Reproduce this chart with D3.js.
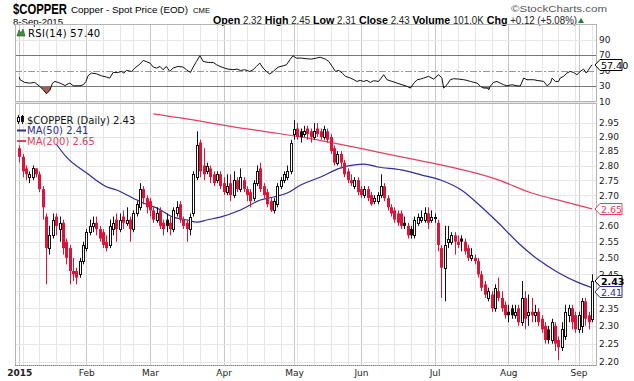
<!DOCTYPE html>
<html><head><meta charset="utf-8">
<script src="https://cdn.jsdelivr.net/npm/d3@7"></script>
<style>body{margin:0;background:#fff}svg{display:block}</style>
</head><body><svg id="c" width="634" height="381"></svg>
<script>
// ---- data ----
const opens=[2.86,2.83,2.79,2.76,2.76,2.79,2.77,2.72,2.63,2.53,2.57,2.63,2.59,2.61,2.55,2.53,2.46,2.46,2.45,2.49,
2.53,2.58,2.60,2.61,2.59,2.58,2.55,2.54,2.59,2.62,2.59,2.63,2.61,2.62,2.59,2.64,2.66,2.72,2.69,
2.68,2.65,2.62,2.65,2.61,2.62,2.61,2.59,2.64,2.67,2.62,2.61,2.59,2.64,2.76,2.88,2.80,2.78,2.79,2.77,2.75,2.77,
2.74,2.71,2.74,2.70,2.75,2.72,2.75,2.72,2.71,2.69,2.74,2.79,2.73,2.71,2.68,2.65,2.67,2.73,2.75,2.76,2.78,
2.91,2.93,2.92,2.91,2.93,2.92,2.90,2.93,2.92,2.90,2.92,2.90,2.86,2.81,2.84,2.81,2.78,2.75,2.73,2.75,
2.72,2.70,2.72,2.70,2.68,2.68,2.70,2.73,2.69,2.66,2.65,2.64,2.64,2.61,2.60,2.59,2.57,2.61,2.62,2.62,2.64,2.62,
2.63,2.61,2.53,2.47,2.55,2.55,2.57,2.55,2.56,2.55,2.53,2.50,2.50,2.49,2.45,2.42,2.38,2.39,2.35,2.40,2.38,2.36,
2.34,2.35,2.33,2.35,2.31,2.38,2.33,2.34,2.33,2.34,2.32,2.30,2.29,2.26,2.30,2.26,2.24,2.27,2.33,2.35,2.33,
2.29,2.30,2.37,2.33,2.32];
const highs=[2.87,2.84,2.80,2.78,2.80,2.79,2.78,2.73,2.64,2.60,2.64,2.64,2.63,2.62,2.56,2.54,2.50,2.47,2.50,2.55,
2.59,2.62,2.63,2.63,2.60,2.59,2.57,2.62,2.63,2.64,2.64,2.65,2.66,2.63,2.65,2.68,2.74,2.73,2.70,
2.69,2.66,2.66,2.66,2.62,2.64,2.63,2.66,2.68,2.68,2.63,2.62,2.64,2.78,2.92,2.89,2.86,2.81,2.80,2.78,2.78,2.78,
2.76,2.77,2.77,2.78,2.76,2.79,2.76,2.73,2.72,2.75,2.80,2.81,2.74,2.72,2.69,2.69,2.74,2.76,2.78,2.80,2.89,
2.96,2.95,2.93,2.94,2.94,2.93,2.95,2.95,2.93,2.94,2.93,2.91,2.87,2.85,2.85,2.82,2.79,2.77,2.76,2.76,
2.73,2.73,2.73,2.71,2.70,2.71,2.77,2.74,2.70,2.67,2.66,2.65,2.65,2.63,2.61,2.60,2.63,2.64,2.65,2.66,2.66,2.65,
2.64,2.62,2.54,2.60,2.60,2.58,2.58,2.57,2.57,2.56,2.54,2.53,2.51,2.50,2.46,2.43,2.41,2.40,2.42,2.44,2.40,2.37,
2.36,2.36,2.36,2.36,2.43,2.40,2.39,2.38,2.36,2.35,2.33,2.31,2.30,2.32,2.31,2.27,2.31,2.36,2.36,2.36,2.34,
2.34,2.38,2.38,2.34,2.45];
const lows=[2.81,2.76,2.75,2.74,2.75,2.76,2.71,2.62,2.42,2.51,2.56,2.57,2.55,2.51,2.48,2.42,2.43,2.42,2.44,2.48,
2.52,2.57,2.58,2.57,2.55,2.53,2.52,2.53,2.57,2.55,2.58,2.59,2.60,2.55,2.58,2.63,2.65,2.67,2.64,
2.63,2.61,2.61,2.59,2.57,2.58,2.57,2.58,2.63,2.61,2.59,2.55,2.57,2.63,2.75,2.76,2.75,2.77,2.74,2.73,2.74,2.72,
2.70,2.70,2.68,2.69,2.71,2.71,2.71,2.68,2.66,2.68,2.73,2.71,2.69,2.66,2.645,2.64,2.66,2.72,2.74,2.75,2.77,
2.89,2.89,2.88,2.90,2.89,2.88,2.89,2.90,2.89,2.89,2.88,2.84,2.80,2.80,2.79,2.76,2.74,2.73,2.72,2.70,
2.69,2.69,2.68,2.665,2.67,2.67,2.69,2.68,2.65,2.63,2.61,2.60,2.59,2.59,2.56,2.56,2.56,2.60,2.61,2.61,2.59,2.61,
2.61,2.52,2.38,2.37,2.53,2.54,2.51,2.53,2.52,2.51,2.49,2.49,2.48,2.44,2.40,2.38,2.37,2.34,2.34,2.37,2.34,2.32,
2.31,2.32,2.32,2.30,2.30,2.29,2.30,2.31,2.31,2.30,2.28,2.25,2.25,2.25,2.23,2.205,2.23,2.26,2.31,2.29,2.28,
2.28,2.28,2.30,2.29,2.31];
const closes=[2.83,2.78,2.77,2.77,2.79,2.77,2.72,2.66,2.53,2.57,2.62,2.60,2.61,2.53,2.50,2.46,2.45,2.44,2.49,2.54,
2.58,2.60,2.61,2.59,2.56,2.54,2.53,2.60,2.61,2.59,2.62,2.61,2.62,2.59,2.64,2.67,2.72,2.69,2.66,
2.65,2.62,2.64,2.60,2.59,2.60,2.59,2.65,2.66,2.62,2.60,2.59,2.63,2.77,2.87,2.78,2.77,2.80,2.76,2.74,2.77,2.73,
2.71,2.73,2.70,2.75,2.72,2.76,2.72,2.70,2.68,2.74,2.78,2.72,2.70,2.67,2.65,2.68,2.73,2.75,2.77,2.78,2.88,
2.93,2.90,2.90,2.92,2.91,2.90,2.92,2.91,2.90,2.93,2.89,2.85,2.81,2.84,2.81,2.77,2.75,2.74,2.75,2.71,
2.70,2.72,2.69,2.67,2.69,2.70,2.73,2.69,2.66,2.64,2.62,2.61,2.60,2.60,2.57,2.57,2.62,2.63,2.63,2.64,2.61,2.63,
2.63,2.54,2.47,2.54,2.56,2.57,2.55,2.54,2.55,2.52,2.50,2.51,2.49,2.45,2.41,2.39,2.40,2.35,2.41,2.38,2.35,2.33,
2.33,2.33,2.34,2.31,2.38,2.32,2.34,2.33,2.34,2.31,2.29,2.26,2.26,2.31,2.25,2.24,2.29,2.34,2.35,2.31,2.29,
2.33,2.37,2.32,2.31,2.43];
const prevClose=2.88;
const ma50Day=[11,14,20,26,29,34,37,41,46,50,53,56,60,66,72,76,80,84,90,96,100,103,107,114,120,126,132,138,143,149,155,161,167,171];
const ma50=[2.875,2.83,2.775,2.728,2.717,2.69,2.674,2.658,2.628,2.619,2.612,2.619,2.628,2.651,2.684,2.694,2.707,2.734,2.761,2.792,2.802,2.805,2.795,2.785,2.768,2.75,2.717,2.661,2.61,2.546,2.494,2.455,2.425,2.41];
const ma200Day=[40,54,64,74,84,94,104,114,120,143,153,163,171];
const ma200=[2.983,2.957,2.936,2.918,2.90,2.878,2.854,2.83,2.816,2.751,2.707,2.678,2.655];
const rsiDay=[0,0.2,1.6,3.1,4.6,6.1,7.1,8.1,9.1,9.9,10.6,11.6,12.6,13.6,14.6,15.1,16.1,18.1,19.1,19.9,
20.5,21.5,23.0,24.5,26.0,27.0,28.0,29.5,30.5,31.2,32.0,33.5,34.5,36.0,37.0,38.0,39.0,40.0,41.0,42.0,
42.9,43.9,44.9,45.9,47.4,48.9,49.9,51.1,51.9,52.9,53.9,54.9,56.4,57.9,58.9,59.9,61.3,62.3,63.8,65.0,
66.0,67.3,68.8,69.8,70.8,71.8,72.8,73.8,74.8,75.8,77.3,78.8,79.8,80.8,81.7,82.7,84.2,85.7,87.2,88.7,
89.8,91.4,92.4,93.4,94.4,95.4,96.4,97.4,98.9,99.9,100.8,101.8,102.8,103.8,104.8,105.8,107.3,108.8,109.8,111.3,
112.8,114.3,115.8,116.8,117.8,118.8,119.8,120.7,122.2,123.7,125.2,126.2,126.7,127.7,128.7,129.7,131.2,132.7,133.7,134.7,
136.7,137.7,138.7,139.7,140.2,140.6,141.6,142.6,143.6,144.6,145.6,147.1,148.6,149.6,150.6,151.6,153.6,154.6,156.6,157.6,
158.6,159.1,160.1,161.0,161.5,162.5,163.5,164.5,165.5,166.5,167.5,168.5,169.3,170.1,171];
const rsiVal=[41.5,38.1,34.6,33.7,34.6,29.5,25.2,20.0,24.3,33.7,35.9,34.6,32.9,30.5,32.9,33.7,30.3,30.3,31.6,35.9,
43.2,46.7,45.8,43.2,41.5,40.2,47.5,47.5,48.8,46.7,50.1,48.8,53.1,58.3,63.0,61.3,59.6,54.4,53.1,55.3,
51.0,55.3,48.8,53.1,55.3,54.4,51.0,47.5,54.4,61.7,69.0,61.7,60.4,60.4,57.4,55.3,53.1,51.8,51.0,51.8,
50.1,51.0,48.8,51.0,55.3,59.6,53.1,48.8,45.4,48.8,54.4,56.1,57.4,63.9,69.0,66.0,66.0,65.2,64.7,66.0,
67.1,64.7,61.7,55.3,48.8,50.1,46.7,42.4,40.2,38.1,35.9,37.2,35.9,37.2,34.6,36.8,35.9,44.5,38.1,35.9,
33.7,31.6,29.5,27.3,33.7,38.1,38.9,40.2,42.4,38.9,44.5,40.2,27.3,31.6,38.1,39.4,38.9,38.1,37.2,35.9,
33.7,29.5,27.3,27.3,25.2,29.5,34.6,35.9,33.7,31.6,30.3,31.6,30.3,30.0,40.2,38.1,38.1,37.2,35.9,30.3,
33.7,40.2,35.9,35.9,40.2,42.4,46.7,48.8,47.5,44.5,48.8,51.8,46.7,51.8,57.4];
const monthStart=[0,20,39,61,82,102,124,146,167];
const monthLabels=["2015","Feb","Mar","Apr","May","Jun","Jul","Aug","Sep"];
const weekStart=[1,6,11,15,20,25,30,34,39,44,49,54,59,63,68,73,78,83,88,93,98,102,107,112,117,122,126,131,136,141,146,151,156,161,166,171];
const priceTicks=[2.20,2.25,2.30,2.35,2.40,2.45,2.50,2.55,2.60,2.65,2.70,2.75,2.80,2.85,2.90,2.95];
const priceLabels=[2.20,2.25,2.30,2.35,2.45,2.50,2.55,2.60,2.70,2.75,2.80,2.85,2.90,2.95];
const rsiTicks=[10,30,50,70,90];

// ---- layout ----
const RED="#dc1437", BLUE="#2d2d9e", MA2C="#e2405e", GRID="#e6e6e6", MGRID="#c8c8c8", FONT="DejaVu Sans";
const L=15,R=596,rT=24,rB=101,mT=103,mB=365;
const svg=d3.select("#c");
const x=d3.scaleLinear().domain([-1.3,172.5]).range([15,597]);
const y=d3.scaleLog().domain([2.20,2.95]).range([362,123]);
const ry=d3.scaleLinear().domain([30,70]).range([86,55]);
const defs=svg.append("defs");
defs.append("clipPath").attr("id","cm").append("rect").attr("x",L).attr("y",mT).attr("width",R-L).attr("height",mB-mT);
defs.append("clipPath").attr("id","cr").append("rect").attr("x",L).attr("y",rT).attr("width",R-L).attr("height",rB-rT);
defs.append("clipPath").attr("id","cr30").append("rect").attr("x",L).attr("y",ry(30)).attr("width",R-L).attr("height",rB-ry(30));

svg.append("rect").attr("width",634).attr("height",381).attr("fill","#fff");

// ---- header ----
const hd=svg.append("g").attr("font-family","Liberation Sans, Arial, sans-serif").attr("fill","#000");
hd.append("text").attr("x",13).attr("y",13.5).attr("font-size",14.5).attr("font-weight","bold").attr("textLength",54).attr("lengthAdjust","spacingAndGlyphs").text("$COPPER");
hd.append("text").attr("x",71).attr("y",13).attr("font-size",9.6).attr("textLength",117).attr("lengthAdjust","spacingAndGlyphs").text("Copper - Spot Price (EOD)");
hd.append("text").attr("x",193).attr("y",13).attr("font-size",8).attr("textLength",17).attr("lengthAdjust","spacingAndGlyphs").text("CME");
hd.append("text").attr("x",13).attr("y",25).attr("font-size",9).attr("textLength",50).attr("lengthAdjust","spacingAndGlyphs").text("8-Sep-2015");
hd.append("text").attr("x",511).attr("y",11.5).attr("font-size",9.5).attr("fill","#555").attr("textLength",96).attr("lengthAdjust","spacingAndGlyphs").text("\u00A9StockCharts.com");
const quote=[["Open","2.32"],["High","2.45"],["Low","2.31"],["Close","2.43"],["Volume","101.0K"],["Chg","+0.12 (+5.08%)"]];
const qt=hd.append("text").attr("x",213).attr("y",24).attr("textLength",364).attr("lengthAdjust","spacingAndGlyphs");
quote.forEach((q,i)=>{
  qt.append("tspan").attr("font-weight","bold").attr("font-size",11).text((i?" ":"")+q[0]);
  qt.append("tspan").attr("font-size",10).attr("fill","#222").text(" "+q[1]);
});
hd.append("path").attr("d","M578,23 L584,23 L581,18 Z").attr("fill","#2a7a2a");

// ---- panel backgrounds / grids ----
function vgrid(top,bot){
  const g=svg.append("g");
  g.selectAll("line.w").data(weekStart).join("line").attr("x1",d=>Math.round(x(d))+0.5).attr("x2",d=>Math.round(x(d))+0.5)
    .attr("y1",top).attr("y2",bot).attr("stroke",GRID);
  g.selectAll("line.m").data(monthStart).join("line").attr("x1",d=>Math.round(x(d))+0.5).attr("x2",d=>Math.round(x(d))+0.5)
    .attr("y1",top).attr("y2",bot).attr("stroke",MGRID);
}
vgrid(rT,rB); vgrid(mT,mB);
svg.append("g").selectAll("line").data(priceTicks).join("line").attr("x1",L).attr("x2",R)
  .attr("y1",d=>Math.round(y(d))+0.5).attr("y2",d=>Math.round(y(d))+0.5).attr("stroke",GRID);
svg.append("g").selectAll("line").data([90,10]).join("line").attr("x1",L).attr("x2",R)
  .attr("y1",d=>Math.round(ry(d))+0.5).attr("y2",d=>Math.round(ry(d))+0.5).attr("stroke",GRID);

// ---- RSI panel ----
const rg=svg.append("g").attr("clip-path","url(#cr)");
const rsiPts=rsiDay.map((d,i)=>[d,rsiVal[i]]);
const area30=d3.area().x(d=>x(d[0])).y0(ry(30)).y1(d=>ry(d[1]));
rg.append("path").attr("clip-path","url(#cr30)").attr("d",area30(rsiPts)).attr("fill","#a85d5d");
rg.selectAll("line.l").data([70,30]).join("line").attr("x1",L).attr("x2",R)
  .attr("y1",d=>Math.round(ry(d))+0.5).attr("y2",d=>Math.round(ry(d))+0.5).attr("stroke","#777");
rg.append("line").attr("x1",L).attr("x2",R).attr("y1",Math.round(ry(50))+0.5).attr("y2",Math.round(ry(50))+0.5)
  .attr("stroke","#999").attr("stroke-dasharray","7,2,2,2");
rg.append("path").attr("d",d3.line().x(d=>x(d[0])).y(d=>ry(d[1]))(rsiPts)).attr("fill","none").attr("stroke","#111").attr("stroke-width",1);
svg.append("rect").attr("x",L+0.5).attr("y",rT+0.5).attr("width",R-L).attr("height",rB-rT).attr("fill","none").attr("stroke","#b5b5b5");
const ra=svg.append("g").attr("transform",`translate(${R},0)`).call(d3.axisRight(ry).tickValues(rsiTicks).tickSize(0).tickPadding(3));
ra.select(".domain").remove();
ra.selectAll("text").attr("font-family",FONT).attr("font-size",9).attr("fill","#222");
// RSI legend
svg.append("path").attr("d","M17,36 L19,30 L21,33 L23,29 L25,36 Z").attr("fill","#3f8f3f").attr("stroke","#1f4f1f").attr("stroke-width",0.6);
svg.append("text").attr("x",28).attr("y",37).attr("font-family",FONT).attr("font-size",10).attr("letter-spacing",0.3).text("RSI(14) 57.40");

// ---- price panel ----
const mg=svg.append("g").attr("clip-path","url(#cm)");
const line=d3.line().curve(d3.curveMonotoneX).x(d=>x(d[0])).y(d=>y(d[1]));
mg.append("path").attr("d",line(ma200Day.map((d,i)=>[d,ma200[i]]))).attr("fill","none").attr("stroke",MA2C).attr("stroke-width",1.2);
mg.append("path").attr("d",line(ma50Day.map((d,i)=>[d,ma50[i]]))).attr("fill","none").attr("stroke",BLUE).attr("stroke-width",1.2);
const candles=closes.map((c,i)=>({i,o:opens[i],h:highs[i],l:lows[i],c,pc:i?closes[i-1]:prevClose}));
const cg=mg.selectAll("g.c").data(candles).join("g");
cg.append("line").attr("x1",d=>Math.round(x(d.i))+0.5).attr("x2",d=>Math.round(x(d.i))+0.5)
  .attr("y1",d=>y(d.h)).attr("y2",d=>y(d.l)).attr("stroke",d=>d.c<d.pc?RED:"#111");
cg.append("rect")
  .attr("x",d=>d.c>=d.o?Math.round(x(d.i))-0.5:Math.round(x(d.i))-1)
  .attr("y",d=>d.c>=d.o?Math.round(y(d.c))+0.5:y(d.o))
  .attr("width",d=>d.c>=d.o?2:3)
  .attr("height",d=>d.c>=d.o?Math.max(1,Math.round(y(d.o))-Math.round(y(d.c))):Math.max(1,y(d.c)-y(d.o)))
  .attr("fill",d=>d.c>=d.o?"#fff":(d.c<d.pc?RED:"#111"))
  .attr("stroke",d=>d.c>=d.o?(d.c<d.pc?RED:"#111"):"none");
svg.append("rect").attr("x",L+0.5).attr("y",mT+0.5).attr("width",R-L).attr("height",mB-mT).attr("fill","none").attr("stroke","#b5b5b5");
svg.append("line").attr("x1",L).attr("x2",R).attr("y1",mB+0.5).attr("y2",mB+0.5).attr("stroke","#888").attr("stroke-dasharray","1,1");

const pa=svg.append("g").attr("transform",`translate(${R},0)`).call(d3.axisRight(y).tickValues(priceLabels).tickSize(0).tickPadding(3).tickFormat(d3.format(".2f")));
pa.select(".domain").remove();
pa.selectAll("text").attr("font-family",FONT).attr("font-size",9).attr("fill","#222");

const xa=svg.append("g").attr("transform",`translate(0,${mB})`).call(d3.axisBottom(x).tickValues(monthStart).tickSize(0).tickPadding(5).tickFormat((d,i)=>monthLabels[i]));
xa.select(".domain").remove();
xa.selectAll("text").attr("font-family",FONT).attr("font-size",9).attr("fill","#222")
  .attr("font-weight",(d,i)=>i===0?"bold":"normal");

// value tags
function tag(yc,txt,col,bold){
  const g=svg.append("g");
  g.append("path").attr("d",`M${R-1},${yc} L${R+4},${yc-5.5} L${R+26},${yc-5.5} L${R+26},${yc+5.5} L${R+4},${yc+5.5} Z`)
    .attr("fill","#fff").attr("stroke",col).attr("stroke-width",1);
  g.append("text").attr("x",R+5).attr("y",yc+3.5).attr("font-family",FONT).attr("font-size",9.5)
    .attr("font-weight",bold?"bold":"normal").attr("fill",col).text(txt);
}
const yC=Math.round(y(closes[closes.length-1]));
tag(Math.round(y(ma200[ma200.length-1])),"2.65",MA2C,false);
tag(yC,"2.43","#000",true);
tag(Math.max(Math.round(y(ma50[ma50.length-1])),yC+11),"2.41",BLUE,false);
tag(Math.round(ry(57.4)),"57.40","#000",false);

// price legend
const lg=svg.append("g").attr("font-family",FONT).attr("font-size",10);
lg.append("line").attr("x1",18.5).attr("x2",18.5).attr("y1",115).attr("y2",124).attr("stroke","#111");
lg.append("rect").attr("x",17.5).attr("y",117.5).attr("width",2).attr("height",4).attr("fill","#fff").attr("stroke","#111");
lg.append("line").attr("x1",22.5).attr("x2",22.5).attr("y1",115).attr("y2",124).attr("stroke","#111");
lg.append("rect").attr("x",21).attr("y",116).attr("width",3).attr("height",6).attr("fill","#111");
lg.append("text").attr("x",27).attr("y",123.5).attr("fill","#111").text("$COPPER (Daily) 2.43");
lg.append("line").attr("x1",17).attr("x2",26).attr("y1",130.5).attr("y2",130.5).attr("stroke",BLUE).attr("stroke-width",2);
lg.append("text").attr("x",27).attr("y",134).attr("fill",BLUE).text("MA(50) 2.41");
lg.append("line").attr("x1",17).attr("x2",26).attr("y1",141).attr("y2",141).attr("stroke",MA2C).attr("stroke-width",2);
lg.append("text").attr("x",27).attr("y",144.5).attr("fill",MA2C).text("MA(200) 2.65");
</script></body></html>
